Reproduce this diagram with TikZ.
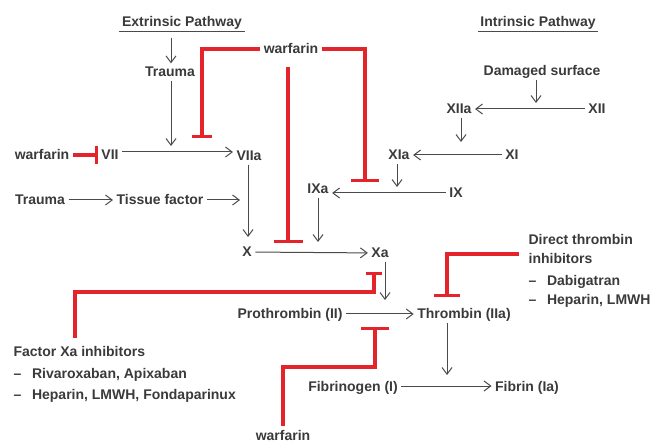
\documentclass[tikz,border=0pt]{standalone}
\usepackage{fontspec}
\setmainfont{Liberation Sans}
\usetikzlibrary{arrows.meta,calc}
\definecolor{txt}{HTML}{3A3A3A}
\definecolor{ln}{HTML}{4A4A4A}
\definecolor{inh}{HTML}{E3242B}
\begin{document}
\begin{tikzpicture}[x=0.75pt,y=-0.75pt,
  lbl/.style={text=txt,font=\fontsize{10.5}{12}\selectfont\bfseries,inner sep=2.5pt,text height=7.5pt,text depth=0pt},
  lw/.style={lbl,anchor=west},
  arr/.style={draw=ln,line width=0.75pt,-{Straight Barb[length=5pt,width=7.5pt]}},
  inhib/.style={draw=inh,line width=2.3pt,line cap=butt},
]
\useasboundingbox (0,0) rectangle (656,441);

% ---- labels ----
\node[lbl] (extr) at (182,22) {Extrinsic Pathway};
\node[lbl] (intr) at (538,22) {Intrinsic Pathway};
\node[lbl] (trauma1) at (170,72) {Trauma};
\node[lbl] (warf1) at (291,49) {warfarin};
\node[lbl] (warf2) at (42,155) {warfarin};
\node[lbl] (vii) at (110,155) {VII};
\node[lbl] (viia) at (249,156) {VIIa};
\node[lbl] (trauma2) at (40,200) {Trauma};
\node[lbl] (tf) at (160,200) {Tissue factor};
\node[lbl] (ixa) at (318,189) {IXa};
\node[lbl] (x) at (247,252) {X};
\node[lbl] (xa) at (380,253) {Xa};
\node[lbl] (dmg) at (542,71) {Damaged surface};
\node[lbl] (xiia) at (459,109) {XIIa};
\node[lbl] (xii) at (597,109) {XII};
\node[lbl] (xia) at (399,155) {XIa};
\node[lbl] (xi) at (512,155) {XI};
\node[lbl] (ix) at (456,193) {IX};
\node[lbl] (pro) at (290,314) {Prothrombin (II)};
\node[lbl] (thr) at (464,314) {Thrombin (IIa)};
\node[lbl] (fgn) at (353,386) {Fibrinogen (I)};
\node[lbl] (fib) at (527,386) {Fibrin (Ia)};
\node[lbl] (warf3) at (283,435) {warfarin};
\node[lw] (fxa1) at (10,351) {Factor Xa inhibitors};
\node[lw] (fxa2) at (10,373) {–\hspace{8pt}Rivaroxaban, Apixaban};
\node[lw] (fxa3) at (10,394) {–\hspace{8pt}Heparin, LMWH, Fondaparinux};
\node[lw] (dti1) at (525,240) {Direct thrombin};
\node[lw] (dti2) at (525,259) {inhibitors};
\node[lw] (dti3) at (525,281) {–\hspace{8pt}Dabigatran};
\node[lw] (dti4) at (525,300) {–\hspace{8pt}Heparin, LMWH};

% underlines
\draw[ln,line width=0.8pt] ($(extr.south west)+(1,1)$) -- ($(extr.south east)+(-1,1)$);
\draw[ln,line width=0.8pt] ($(intr.south west)+(1,1)$) -- ($(intr.south east)+(-1,1)$);

% ---- free ends ----
\coordinate (j1) at (171,146);
\coordinate (tfend) at (240,200);
\coordinate (ixaend) at (318,242);
\coordinate (xiaend) at (397,187);
\coordinate (xiiaend) at (461,142);
\coordinate (dmgend) at (536,103);
\coordinate (xaend) at (385,300);
\coordinate (thrend) at (447,375);
\coordinate (wb1) at (202,138);
\coordinate (wb2) at (365,182);
\coordinate (wb3) at (288,243);
\coordinate (fxturn) at (374,292);
\coordinate (fxbar) at (374,272);
\coordinate (dtibar) at (447,297);
\coordinate (w3turn) at (375,367);
\coordinate (w3bar) at (375,327);

% ---- arrows ----
\draw[arr] ($(extr.south -| trauma1.north)+(1,7)$) -- ($(trauma1.north)+(1,0)$);
\draw[arr] (trauma1.south -| j1) -- (j1);
\draw[arr] (vii.east |- 0,152) -- (viia.west |- 0,152);
\draw[arr] (trauma2) -- (tf);
\draw[arr] (tf.east) -- (tfend);
\draw[arr] (viia.south -| 248,0) -- (248,237);
\draw[arr] (ixa.south) -- (ixaend);
\draw[arr] (x) -- (xa);
\draw[arr] (ix) -- (ixa.east |- ix);
\draw[arr] (xi) -- (xia);
\draw[arr] (xia.south -| xiaend) -- (xiaend);
\draw[arr] (xii) -- (xiia);
\draw[arr] (xiia.south -| xiiaend) -- (xiiaend);
\draw[arr] (dmg.south -| dmgend) -- (dmgend);
\draw[arr] (xa.south -| xaend) -- (xaend);
\draw[arr] (pro) -- (thr);
\draw[arr] (thr.south -| thrend) -- (thrend);
\draw[arr] (fgn) -- (fib);

% ---- inhibitions ----
\draw[inhib,-{Bar[width=13.5pt]}] (warf2.east) -- (vii.west);
\draw[inhib,-{Bar[width=15pt]}] (warf1.west) -| (wb1);
\draw[inhib,-{Bar[width=21pt]}] (warf1.east) -| (wb2);
\draw[inhib,-{Bar[width=21.75pt]}] ($(warf1.south -| wb3)+(0,9)$) -- (wb3);
\draw[inhib,-{Bar[width=11.5pt]}] ($(fxa1.north -| 75,0)+(0,-4)$) |- (fxturn) -- (fxbar);
\draw[inhib,-{Bar[width=19.5pt]}] ($(dti2.west)+(-6,-5)$) -| (dtibar);
\draw[inhib,-{Bar[width=21pt]}] (warf3.north) |- (w3turn) -- (w3bar);
\end{tikzpicture}
\end{document}
